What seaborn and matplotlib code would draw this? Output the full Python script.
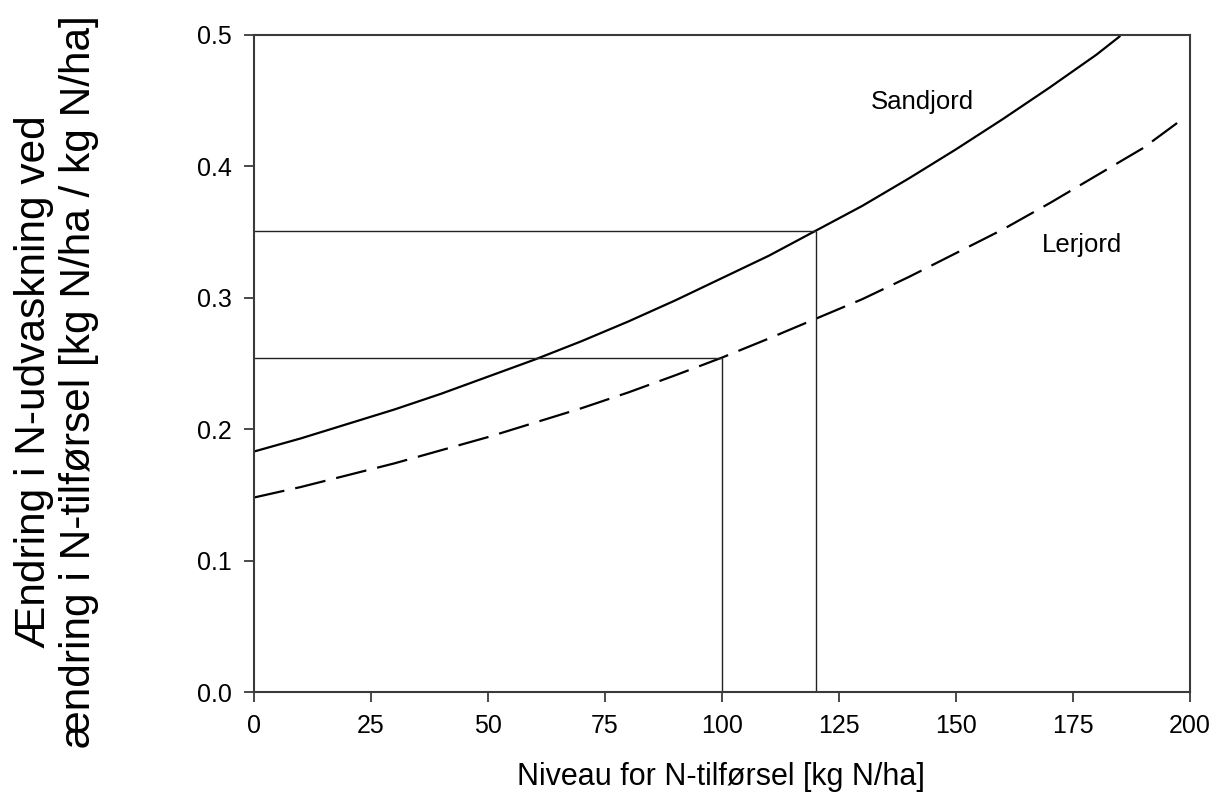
import numpy as np
import pandas as pd
import matplotlib
matplotlib.use("Agg")
import matplotlib.pyplot as plt
import seaborn as sns

# Values
n_levels_sand = [0, 10, 20, 30, 40, 50, 60, 70, 80, 90, 100,
                 110, 120, 130, 140, 150, 160, 170, 180, 185]
leach_sand = [0.183, 0.193, 0.204, 0.215, 0.227, 0.240, 0.253, 0.267, 0.282, 0.298, 0.315,
              0.332, 0.351, 0.370, 0.391, 0.413, 0.436, 0.460, 0.485, 0.499]

n_levels_clay = [0, 10, 20, 30, 40, 50, 60, 70, 80, 90, 100,
                 110, 120, 130, 140, 150, 160, 170, 180, 190, 198]
leach_clay = [0.148, 0.156, 0.165, 0.174, 0.184, 0.194, 0.205, 0.216, 0.228, 0.241, 0.2545,
              0.269, 0.284, 0.299, 0.316, 0.334, 0.352, 0.372, 0.393, 0.414, 0.435]

# Guide lines: N level and the matching leaching change
guide_x = [100, 120]
guide_y = [0.2545, 0.351]

x_ticks = [0, 25, 50, 75, 100, 125, 150, 175, 200]
y_ticks = [0.0, 0.1, 0.2, 0.3, 0.4, 0.5]

sns.set_theme(style="white")
plt.rcParams["font.family"] = ["Liberation Sans", "DejaVu Sans"]
plt.rcParams["text.color"] = "black"
plt.rcParams["axes.labelcolor"] = "black"

fig = plt.figure(figsize=(12.13, 7.93), dpi=100)
ax = fig.add_axes([254 / 1213, 1 - 692 / 793, 936 / 1213, 657 / 793])

sand_df = pd.DataFrame({"N": n_levels_sand, "leach": leach_sand})
clay_df = pd.DataFrame({"N": n_levels_clay, "leach": leach_clay})

sns.lineplot(data=sand_df, x="N", y="leach", color="black", linewidth=1.6, ax=ax)
sns.lineplot(data=clay_df, x="N", y="leach", color="black", linewidth=1.6, ax=ax)
ax.lines[-1].set_dashes((14, 5))

ax.hlines(guide_y, 0, guide_x, color="#222222", linewidth=1.0)
ax.vlines(guide_x, 0, guide_y, color="#222222", linewidth=1.0)

ax.text(131.8, 0.4437, "Sandjord", fontsize=18.5, ha="left", va="baseline", color="black")
ax.text(168.4, 0.3346, "Lerjord", fontsize=18.5, ha="left", va="baseline", color="black")

ax.set_xlim(0, 200)
ax.set_ylim(0, 0.5)
ax.set_xticks(x_ticks)
ax.set_yticks(y_ticks)
ax.set_yticklabels([f"{v:.1f}" for v in y_ticks])

for side in ["left", "right", "top", "bottom"]:
    ax.spines[side].set_visible(True)
    ax.spines[side].set_color("#3a3a3a")
    ax.spines[side].set_linewidth(1.5)

ax.tick_params(axis="both", which="major", direction="out", length=7,
               width=1.3, color="#3a3a3a", labelsize=18, pad=9,
               labelcolor="black", left=True, bottom=True, top=False, right=False)

ax.set_xlabel("Niveau for N-tilførsel [kg N/ha]", fontsize=22, color="black")
ax.xaxis.set_label_coords(0.4985, -0.1065)

ax.set_ylabel("Ændring i N-udvaskning ved\nændring i N-tilførsel [kg N/ha / kg N/ha]",
              fontsize=30.5, va="center", ha="center", multialignment="center",
              linespacing=1.15, color="black")
ax.yaxis.set_label_coords(-0.211, 0.472)

fig.savefig("out.png", dpi=100)
